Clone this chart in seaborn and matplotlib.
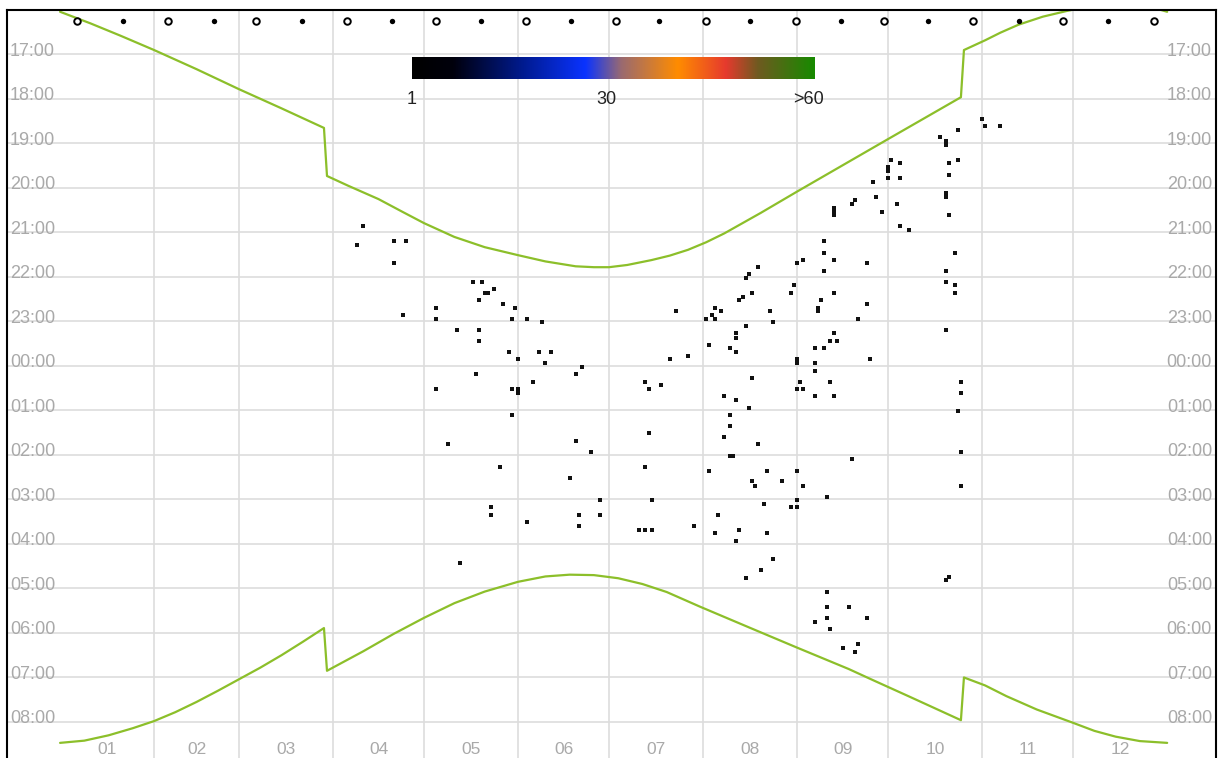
import matplotlib
matplotlib.use("Agg")
import matplotlib.pyplot as plt
import matplotlib.transforms as mtransforms
from matplotlib.colors import LinearSegmentedColormap
import numpy as np
import pandas as pd
import seaborn as sns

# x = day of year, y = clock time in hours (values > 24 are after midnight)
months = ["01", "02", "03", "04", "05", "06", "07", "08", "09", "10", "11", "12"]
month_starts = [0, 31, 59, 90, 120, 151, 181, 212, 243, 273, 304, 334, 365]
hour_ticks = list(range(17, 33))
hour_labels = ["%02d:00" % (h % 24) for h in hour_ticks]

# sunset / sunrise, with the summer time jumps
sunset_day = [0, 10, 20, 31, 45, 59, 73, 87, 88, 95, 105, 113, 120, 130, 140,
              151, 160, 170, 176, 181, 187, 195, 201, 207, 213, 219, 231, 243, 258,
              273, 285, 297, 298, 305, 310, 316, 324, 332, 340, 347, 354, 362, 365]
sunset_hour = [16.04, 16.30, 16.58, 16.90, 17.33, 17.78, 18.21, 18.65, 19.73, 19.95,
               20.25, 20.54, 20.79, 21.10, 21.33, 21.51, 21.65, 21.76, 21.78, 21.78,
               21.73, 21.62, 21.52, 21.39, 21.22, 21.02, 20.56, 20.08, 19.49, 18.90,
               18.43, 17.96, 16.90, 16.68, 16.51, 16.33, 16.15, 16.02, 15.91, 15.87,
               15.89, 15.98, 16.04]
sunrise_day = [0, 8, 16, 24, 31, 38, 45, 52, 59, 66, 73, 80, 87, 88, 100, 110, 120,
               130, 140, 151, 160, 168, 176, 184, 192, 200, 211, 228, 243, 260, 268,
               280, 297, 298, 305, 312, 322, 334, 341, 348, 356, 365]
sunrise_hour = [32.47, 32.42, 32.30, 32.14, 31.98, 31.78, 31.55, 31.30, 31.04, 30.78,
                30.50, 30.20, 29.89, 30.85, 30.41, 30.02, 29.66, 29.33, 29.07, 28.85,
                28.73, 28.69, 28.70, 28.77, 28.90, 29.08, 29.41, 29.90, 30.33, 30.81,
                31.06, 31.43, 31.96, 31.00, 31.18, 31.42, 31.72, 32.02, 32.20, 32.33,
                32.43, 32.47]

# moon phases
full_moon = [5.6, 35.6, 64.6, 94.6, 124.0, 153.6, 183.3, 213.0, 242.7, 271.5, 301.0, 330.7, 360.7]
new_moon = [20.8, 50.8, 79.8, 109.5, 138.8, 168.5, 197.5, 227.5, 257.5, 286.0, 316.0, 345.5]

# observations (day, hour)
obs_spring = [
    (100, 20.85), (98, 21.27), (110, 21.19), (114, 21.19), (110, 21.69), (113, 22.86),
    (124, 22.69), (124, 22.94), (136, 22.11), (139, 22.11), (140, 22.36), (141, 22.36),
    (143, 22.27), (138, 22.52), (146, 22.61), (150, 22.69), (149, 22.94), (154, 22.94),
    (159, 23.02), (131, 23.19), (138, 23.19), (138, 23.44), (148, 23.69), (151, 23.85),
    (158, 23.69), (162, 23.69), (160, 23.94), (137, 24.19), (172, 24.02), (170, 24.19),
    (156, 24.35), (124, 24.52), (149, 24.52), (151, 24.52), (151, 24.60), (149, 25.10),
    (128, 25.76), (170, 25.69), (175, 25.94), (145, 26.27), (168, 26.52), (178, 27.01),
    (142, 27.18), (142, 27.35), (171, 27.35), (178, 27.35), (154, 27.51), (171, 27.60),
    (132, 28.43),
]
obs_summer = [
    (252, 21.45), (243, 21.69), (245, 21.61), (255, 21.61), (266, 21.69), (230, 21.77),
    (252, 21.86), (227, 21.94), (226, 22.02), (242, 22.19), (241, 22.36), (255, 22.36),
    (228, 22.36), (225, 22.44), (224, 22.52), (251, 22.52), (250, 22.69), (250, 22.77),
    (266, 22.61), (203, 22.77), (234, 22.77), (216, 22.69), (218, 22.77), (215, 22.86),
    (213, 22.94), (216, 22.94), (235, 23.02), (263, 22.94), (226, 23.11), (223, 23.27),
    (223, 23.36), (255, 23.27), (254, 23.44), (256, 23.44), (214, 23.52), (249, 23.60),
    (252, 23.60), (221, 23.60), (223, 23.69), (201, 23.85), (207, 23.77), (243, 23.85),
    (243, 23.94), (249, 23.94), (267, 23.85), (249, 24.11), (228, 24.27), (193, 24.35),
    (194, 24.52), (198, 24.43), (244, 24.35), (243, 24.52), (245, 24.52), (254, 24.35),
    (249, 24.68), (255, 24.68), (219, 24.68), (223, 24.76), (227, 24.94), (221, 25.10),
    (221, 25.35), (194, 25.51), (219, 25.60), (230, 25.76), (221, 26.02), (222, 26.02),
    (261, 26.10), (193, 26.27), (214, 26.35), (233, 26.35), (243, 26.35), (228, 26.59),
    (229, 26.69), (238, 26.59), (245, 26.69), (253, 26.94), (195, 27.01), (243, 27.01),
    (232, 27.10), (241, 27.18), (243, 27.18), (217, 27.35), (209, 27.60), (191, 27.68),
    (193, 27.68), (195, 27.68), (224, 27.68), (216, 27.76), (233, 27.76), (223, 27.93),
    (235, 28.34), (231, 28.59), (226, 28.76), (253, 29.09), (253, 29.42), (260, 29.42),
    (253, 29.67), (249, 29.75), (266, 29.67), (254, 29.92), (258, 30.34), (263, 30.25),
    (262, 30.42),
]
obs_autumn = [
    (304, 18.44), (305, 18.61), (310, 18.61), (296, 18.70), (290, 18.86), (292, 18.95),
    (292, 19.04), (293, 19.44), (296, 19.36), (293, 19.70), (274, 19.36), (277, 19.44),
    (273, 19.53), (273, 19.61), (273, 19.78), (277, 19.78), (268, 19.86), (269, 20.20),
    (276, 20.36), (271, 20.53), (261, 20.36), (262, 20.28), (255, 20.44), (255, 20.53),
    (255, 20.61), (292, 20.11), (292, 20.20), (293, 20.61), (277, 20.85), (280, 20.94),
    (252, 21.19), (295, 21.45), (292, 21.86), (292, 22.11), (295, 22.19), (295, 22.36),
    (292, 23.19), (297, 24.35), (297, 24.61), (296, 25.02), (297, 25.94), (297, 26.69),
    (292, 28.81), (293, 28.74),
]

cbar_ticks = [1, 30, 60]
cbar_labels = ["1", "30", ">60"]


sns.set_style("white")
plt.rcParams["font.family"] = ["Liberation Sans", "DejaVu Sans"]

W, H = 1218, 758
fig = plt.figure(figsize=(W / 100, H / 100), dpi=100)
ax = fig.add_axes([7 / W, 0, 1209 / W, 748 / H])

ax.set_xlim(-17.5, 381.1)
ax.set_ylim(32.81, 16.0)

grid_color = "#dddddd"
for d in month_starts[1:-1]:
    ax.axvline(d, color=grid_color, lw=1.2, zorder=0)
for h in hour_ticks:
    ax.axhline(h, color=grid_color, lw=1.2, zorder=0)

green = "#8cbf2a"
sns.lineplot(x=sunset_day, y=sunset_hour, sort=False, estimator=None,
             color=green, lw=1.6, ax=ax)
sns.lineplot(x=sunrise_day, y=sunrise_hour, sort=False, estimator=None,
             color=green, lw=1.6, ax=ax)

obs = pd.DataFrame(obs_spring + obs_summer + obs_autumn, columns=["day", "hour"])
sns.scatterplot(data=obs, x="day", y="hour", marker="s", s=10,
                color="#111111", linewidth=0, ax=ax, zorder=3)

moon_row = 16.25
sns.scatterplot(x=full_moon, y=[moon_row] * len(full_moon), marker="o", s=22,
                color="white", edgecolor="black", linewidth=1.4, ax=ax, zorder=4)
sns.scatterplot(x=new_moon, y=[moon_row] * len(new_moon), marker="o", s=15,
                color="black", linewidth=0, ax=ax, zorder=4)

label_color = "#a9a9a9"
trans = mtransforms.blended_transform_factory(ax.transAxes, ax.transData)
for h, lab in zip(hour_ticks, hour_labels):
    ax.text(0.0025, h + 0.03, lab, transform=trans, ha="left", va="baseline",
            color=label_color, fontsize=13)
    ax.text(0.9967, h + 0.03, lab, transform=trans, ha="right", va="baseline",
            color=label_color, fontsize=13)

for i, m in enumerate(months):
    mid = (month_starts[i] + month_starts[i + 1]) / 2
    ax.text(mid, 32.79, m, ha="center", va="bottom", color=label_color, fontsize=12.5)

ax.set_xticks([])
ax.set_yticks([])
ax.set_xlabel("")
ax.set_ylabel("")
ax.spines["bottom"].set_visible(False)
for s in ["top", "left", "right"]:
    ax.spines[s].set_color("black")
    ax.spines[s].set_linewidth(1.5)

# colour scale
cmap = LinearSegmentedColormap.from_list("counts", [
    (0.0, "#000000"), (0.1, "#00000c"), (0.27, "#001a8c"), (0.43, "#0a33ff"),
    (0.52, "#9a6a70"), (0.66, "#ff8c00"), (0.78, "#e63a2e"), (0.86, "#6f5a20"),
    (1.0, "#178a00"),
])
cax = fig.add_axes([412 / W, 1 - 79 / H, 403 / W, 22 / H])
cax.imshow(np.linspace(0, 1, 256)[None, :], aspect="auto", cmap=cmap,
           extent=[cbar_ticks[0], cbar_ticks[-1] + 1, 0, 1])
cax.set_axis_off()
for v, lab in zip(cbar_ticks, cbar_labels):
    cax.text(v, -0.95, lab, ha="center", va="center", fontsize=13, color="#222222")

fig.savefig("out.png", dpi=100)
plt.close()
